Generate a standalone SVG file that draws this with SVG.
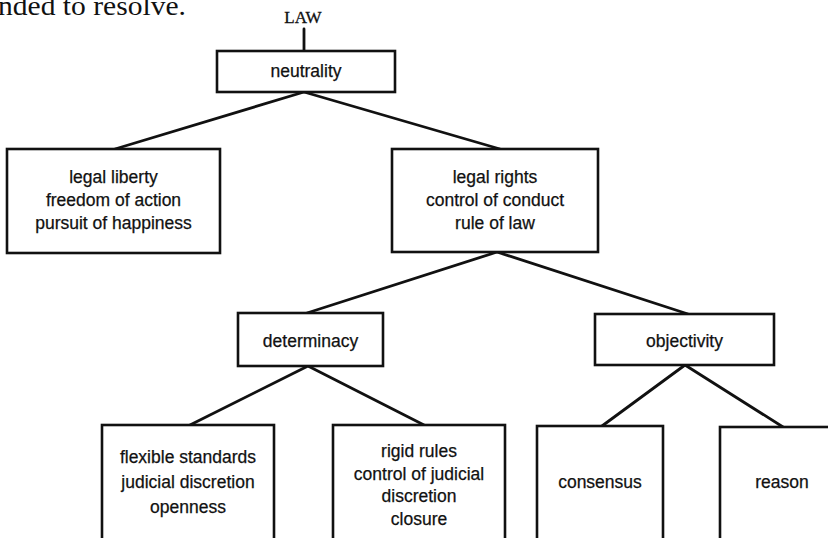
<svg xmlns="http://www.w3.org/2000/svg" width="828" height="538" viewBox="0 0 828 538">
<style>
.box{fill:#fff;stroke:#111;stroke-width:2.6}
.t{font-family:"Liberation Sans",Arial,sans-serif;font-size:17.5px;fill:#111;text-anchor:middle;stroke:#111;stroke-width:0.25}
.c{stroke:#111;stroke-width:2.8;fill:none;stroke-linecap:round}
</style>
<rect width="828" height="538" fill="#fff"/>
<text x="-2" y="15" font-family="'Liberation Serif','Times New Roman',serif" font-size="28" fill="#111" textLength="188" lengthAdjust="spacingAndGlyphs">nded to resolve.</text>
<g id="connectors">
<line class="c" x1="304" y1="29" x2="304" y2="51"/>
<line class="c" x1="304" y1="92" x2="115" y2="149"/>
<line class="c" x1="304" y1="92" x2="500" y2="149"/>
<line class="c" x1="497" y1="252" x2="307" y2="313"/>
<line class="c" x1="497" y1="252" x2="688" y2="314"/>
<line class="c" x1="308" y1="366" x2="190" y2="425"/>
<line class="c" x1="308" y1="366" x2="424" y2="425"/>
<line class="c" x1="685" y1="365" x2="602" y2="426"/>
<line class="c" x1="685" y1="365" x2="783" y2="427"/>
</g>
<g id="law">
<text x="303" y="23" font-family="'Liberation Serif','Times New Roman',serif" font-size="17" fill="#111" text-anchor="middle" stroke="#111" stroke-width="0.3">LAW</text>
</g>
<g id="neutrality">
<rect class="box" x="217" y="51" width="178" height="41"/>
<text class="t" x="306" y="77">neutrality</text>
</g>
<g id="legal-liberty">
<rect class="box" x="7" y="149" width="213" height="104"/>
<text class="t" x="113.5" y="183">legal liberty</text>
<text class="t" x="113.5" y="206">freedom of action</text>
<text class="t" x="113.5" y="229">pursuit of happiness</text>
</g>
<g id="legal-rights">
<rect class="box" x="392" y="149" width="206" height="103"/>
<text class="t" x="495" y="183">legal rights</text>
<text class="t" x="495" y="206">control of conduct</text>
<text class="t" x="495" y="229">rule of law</text>
</g>
<g id="determinacy">
<rect class="box" x="238" y="313" width="145" height="53"/>
<text class="t" x="310.5" y="347">determinacy</text>
</g>
<g id="objectivity">
<rect class="box" x="595" y="314" width="179" height="51"/>
<text class="t" x="684.5" y="347">objectivity</text>
</g>
<g id="flexible-standards">
<rect class="box" x="102" y="425" width="172" height="125"/>
<text class="t" x="188" y="463">flexible standards</text>
<text class="t" x="188" y="488">judicial discretion</text>
<text class="t" x="188" y="513">openness</text>
</g>
<g id="rigid-rules">
<rect class="box" x="333" y="425" width="172" height="125"/>
<text class="t" x="419" y="457">rigid rules</text>
<text class="t" x="419" y="480">control of judicial</text>
<text class="t" x="419" y="502">discretion</text>
<text class="t" x="419" y="525">closure</text>
</g>
<g id="consensus">
<rect class="box" x="537" y="426" width="126" height="124"/>
<text class="t" x="600" y="488">consensus</text>
</g>
<g id="reason">
<rect class="box" x="720" y="427" width="130" height="123"/>
<text class="t" x="782" y="488">reason</text>
</g>
</svg>
